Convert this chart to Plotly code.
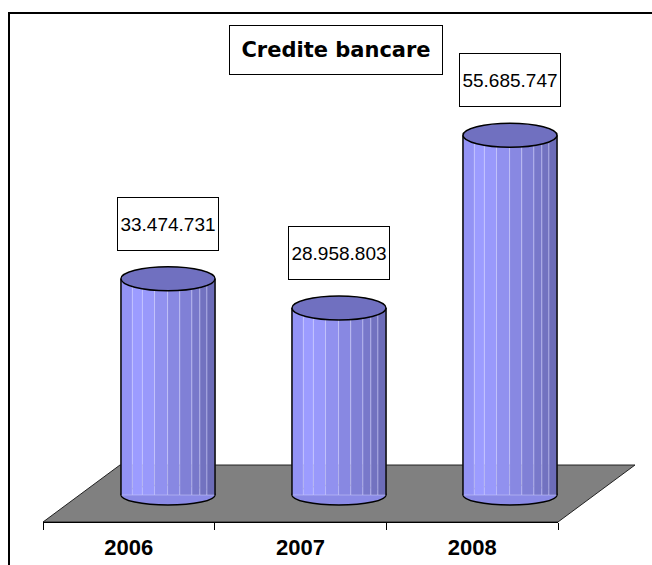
import plotly.graph_objects as go

# ---- data ----
years = [2006, 2007, 2008]
year_labels = [str(y) for y in years]
values = [33474731, 28958803, 55685747]
value_labels = [f"{v:,}".replace(",", ".") for v in values]
chart_title = "Credite bancare"

# ---- layout constants ----
W, H = 652, 565
M_L, M_R, M_T, M_B = 0, 0, 20, 43
PLOT_H = H - M_T - M_B
Y_MIN, Y_MAX = -4.18e6, 73.53e6
Y_PER_PX = (Y_MAX - Y_MIN) / PLOT_H
BAR_W = 0.55

def px_x(p):
    return p / W

def px_y(p):
    return (H - M_B - p) / PLOT_H

stripe_edges = [0, .121, .228, .357, .496, .625, .754, .839, .914, 1.0]
stripe_colors = ["#9393f5", "#9c9cff", "#9999fb", "#9191ef", "#8888e2",
                 "#8080d6", "#7878ca", "#7272c0", "#6c6cb8"]

fig = go.Figure()

for k, col in enumerate(stripe_colors):
    a, b = stripe_edges[k], stripe_edges[k + 1]
    fig.add_trace(go.Bar(
        x=years, y=values,
        width=(b - a) * BAR_W, offset=-BAR_W / 2 + a * BAR_W,
        marker=dict(color=col, line=dict(width=0.6, color="rgba(215,215,255,0.75)")),
        hoverinfo="skip", showlegend=False, xaxis="x", yaxis="y",
    ))

# invisible trace to carry the category axis
fig.add_trace(go.Scatter(x=year_labels, y=values, mode="markers",
                         marker=dict(opacity=0), hoverinfo="skip",
                         showlegend=False, xaxis="x2", yaxis="y"))

shapes = []
# floor
floor_pts = [(43, 522), (558, 522), (635, 465), (120, 465)]
path = "M " + " L ".join(f"{px_x(x):.4f},{px_y(y):.4f}" for x, y in floor_pts) + " Z"
shapes.append(dict(type="path", xref="paper", yref="paper", path=path,
                   fillcolor="#808080", line=dict(color="#222222", width=1),
                   layer="below"))
# frame
shapes.append(dict(type="rect", xref="paper", yref="paper",
                   x0=px_x(9), x1=px_x(700), y0=px_y(620), y1=px_y(13),
                   line=dict(color="black", width=2), fillcolor="rgba(0,0,0,0)",
                   layer="below"))

h_top = 12 * Y_PER_PX
h_bot = 10 * Y_PER_PX
for yr, v in zip(years, values):
    shapes.append(dict(type="circle", xref="x", yref="y",
                       x0=yr - BAR_W / 2, x1=yr + BAR_W / 2, y0=-h_bot, y1=h_bot,
                       fillcolor="#8a8ae6", line=dict(color="black", width=1.5),
                       layer="below"))
    for xe in (yr - BAR_W / 2, yr + BAR_W / 2):
        shapes.append(dict(type="line", xref="x", yref="y",
                           x0=xe, x1=xe, y0=0, y1=v,
                           line=dict(color="black", width=1.5), layer="above"))
    shapes.append(dict(type="circle", xref="x", yref="y",
                       x0=yr - BAR_W / 2, x1=yr + BAR_W / 2, y0=v - h_top, y1=v + h_top,
                       fillcolor="#7070c0", line=dict(color="black", width=1.5),
                       layer="above"))

annotations = [dict(text=f"<b>{chart_title}</b>", xref="paper", yref="paper",
                    x=px_x(336), y=px_y(50), xanchor="center", yanchor="middle",
                    showarrow=False,
                    font=dict(family="DejaVu Sans, Liberation Sans, sans-serif", size=21, color="black"),
                    bordercolor="black", borderwidth=1, borderpad=2,
                    width=208, height=44, bgcolor="white")]
for yr, v, lab in zip(years, values, value_labels):
    annotations.append(dict(text=lab, x=yr, y=v, xref="x", yref="y",
                            xanchor="center", yanchor="middle",
                            yshift=55, showarrow=False,
                            font=dict(family="Liberation Sans, Arial, sans-serif",
                                      size=19, color="black"),
                            bordercolor="black", borderwidth=1, borderpad=2,
                            width=96, height=48, bgcolor="white"))

fig.update_layout(
    width=W, height=H,
    margin=dict(l=M_L, r=M_R, t=M_T, b=M_B, pad=0),
    paper_bgcolor="white", plot_bgcolor="rgba(0,0,0,0)",
    barmode="overlay", showlegend=False, hovermode=False,
    shapes=shapes, annotations=annotations,
    xaxis=dict(type="linear", range=[years[0] - 0.5, years[-1] + 0.5],
               domain=[px_x(82.5), px_x(595.5)], visible=False, fixedrange=True),
    xaxis2=dict(type="category", categoryorder="array", categoryarray=year_labels,
                range=[-0.5, len(years) - 0.5], domain=[px_x(43), px_x(558)],
                anchor="y", showline=True, linecolor="black", linewidth=1,
                ticks="outside", ticklen=7, tickwidth=1, tickcolor="black",
                tickson="boundaries", showgrid=False, zeroline=False,
                ticklabelstandoff=6, fixedrange=True,
                tickfont=dict(family="Liberation Sans, Arial, sans-serif", size=22,
                              color="black", weight="bold")),
    yaxis=dict(range=[Y_MIN, Y_MAX], visible=False, fixedrange=True),
)

fig.write_html("out.html", config={"displayModeBar": False},
               post_script="document.body.style.margin='0';document.body.style.overflow='hidden';")
